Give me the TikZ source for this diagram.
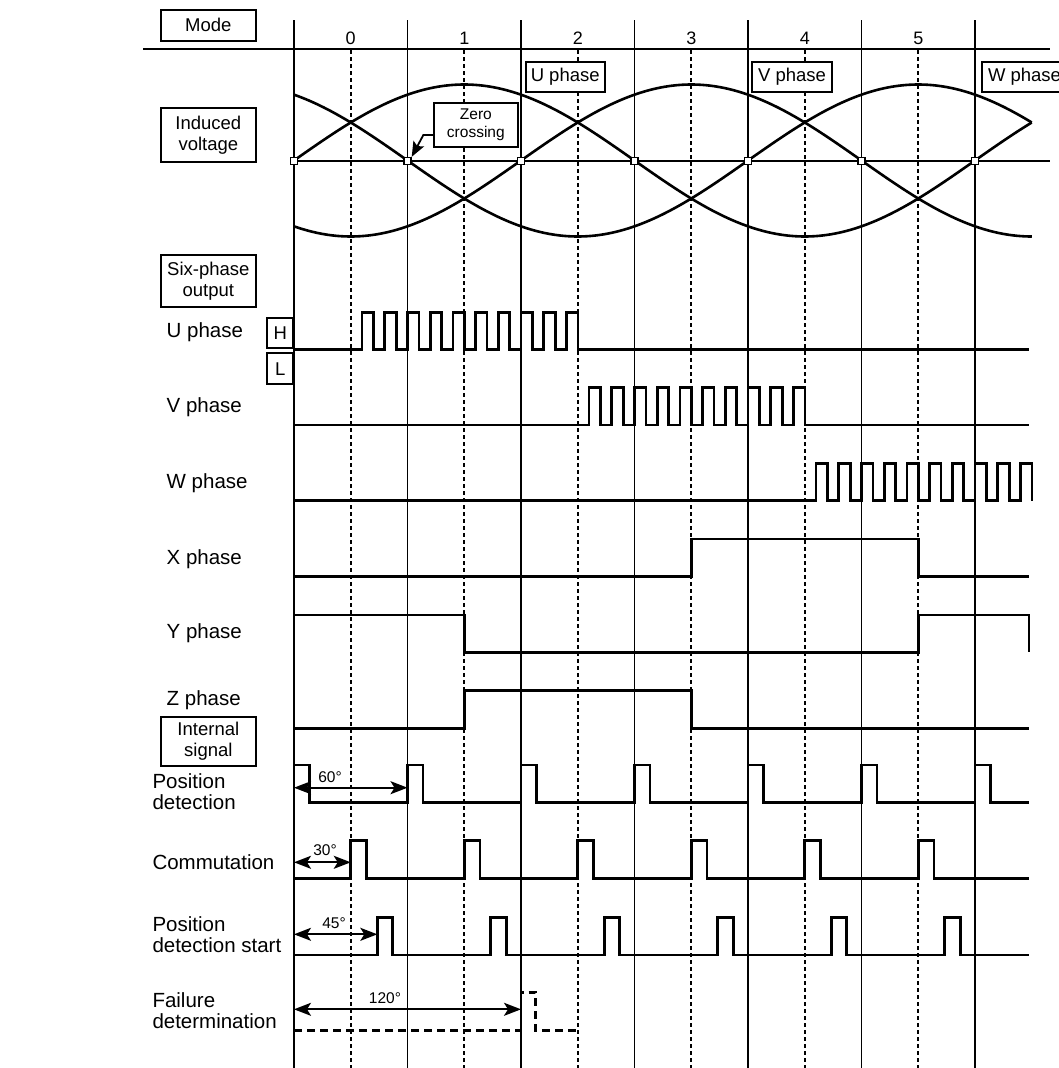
\documentclass[tikz,border=0pt]{standalone}
\usepackage{fontspec}
\setmainfont{Liberation Sans}
\usetikzlibrary{arrows.meta}
\begin{document}
\begin{tikzpicture}[x=1pt,y=-1pt,
  lbl/.style={font=\fontsize{20.5}{21}\selectfont, anchor=west, inner sep=0pt, align=left},
  tbox/.style={draw, fill=white, line width=1.9pt, font=\fontsize{18.5}{21}\selectfont, align=center, inner sep=0pt},
  num/.style={font=\fontsize{18}{18}\selectfont, inner sep=0pt},
  small/.style={font=\fontsize{15.5}{17.5}\selectfont, inner sep=0pt, align=center},
  gridline/.style={line width=1.8pt},
  gdash/.style={line width=1.8pt, dash pattern=on 4pt off 3pt},
  wave/.style={line width=2.7pt, line join=miter},
  curve/.style={line width=2.6pt},
  dimarrow/.style={line width=1.8pt, {Stealth[length=17pt,width=13pt,inset=4pt]}-{Stealth[length=17pt,width=13pt,inset=4pt]}},
  zcarrow/.style={line width=1.8pt, -{Stealth[length=15pt,width=12pt,inset=3pt]}},
  zsq/.style={draw, fill=white, line width=1.4pt, minimum size=7pt, inner sep=0pt}
]
\useasboundingbox (0,0) rectangle (1058,1068);

% grid
\draw[gridline] (143,49.3) -- (1050,49.3);
\foreach \k in {0,...,6} {
  \draw[gridline] ({294+113.5*\k},20) -- ({294+113.5*\k},1068);
}
\foreach \k in {0,...,5} {
  \draw[gdash] ({350.75+113.5*\k},50) -- ({350.75+113.5*\k},1068);
  \node[num] (m\k) at ({350.75+113.5*\k},38) {\k};
}

% left boxes
\node[tbox, minimum width=95.3pt, minimum height=30.7pt] (mode) at (208.35,25.35) {Mode};
\node[tbox, minimum width=95.3pt, minimum height=54.6pt] (ind) at (208.35,135) {Induced\\voltage};
\node[tbox, minimum width=95.3pt, minimum height=51.7pt] (six) at (208.35,280.85) {Six-phase\\output};
\node[tbox, minimum width=95.3pt, minimum height=49.3pt] (int) at (208.35,741.3) {Internal\\signal};
\node[tbox, minimum width=26pt, minimum height=30.6pt] (hbox) at (280.3,333) {H};
\node[tbox, minimum width=26pt, minimum height=30.6pt] (lbox) at (280.3,368.65) {L};

% phase boxes on top
\node[tbox, minimum width=79pt, minimum height=30.3pt] (up) at (565.2,76.85) {U phase};
\node[tbox, minimum width=80.6pt, minimum height=30.3pt] (vp) at (792,76.85) {V phase};
\node[tbox, minimum width=84.3pt, minimum height=30.3pt] (wp) at (1024.5,76.85) {W phase};

% induced voltage
\draw[gridline] (294,161) -- (1050,161);
\draw[curve] plot[domain=294:1031.75, samples=200, smooth] (\x, {160.5-76*sin((\x-294)/681*360)});
\draw[curve] plot[domain=294:1031.75, samples=200, smooth] (\x, {160.5-76*sin((\x-294)/681*360+120)});
\draw[curve] plot[domain=294:1031.75, samples=200, smooth] (\x, {160.5-76*sin((\x-294)/681*360-120)});
\foreach \k in {0,...,6} {
  \node[zsq] (sq\k) at ({294+113.5*\k},161) {};
}
\node[tbox, font=\fontsize{15.5}{17.5}\selectfont, minimum width=83.7pt, minimum height=43.4pt] (zc) at (475.85,125) {Zero\\crossing};
\draw[zcarrow] (zc.west) ++(0,10) -- ++(-9.7,0) -- (sq1.north east);

% labels
\node[lbl] (lu) at (166.5,331.7) {U phase};
\node[lbl] (lv) at (166.5,406.7) {V phase};
\node[lbl] (lw) at (166.5,483.3) {W phase};
\node[lbl] (lx) at (166.5,559.3) {X phase};
\node[lbl] (ly) at (166.5,633.3) {Y phase};
\node[lbl] (lz) at (166.5,700) {Z phase};
\node[lbl] (lpd) at (152.3,791.2) {Position\\detection};
\node[lbl] (lcm) at (152.3,862.3) {Commutation};
\node[lbl] (lps) at (152.3,935) {Position\\detection start};
\node[lbl] (lfd) at (152.3,1010.5) {Failure\\determination};

% U phase
\draw[wave] (294,349.3) foreach \k in {0,...,9} { -- ({362.1+22.7*\k},349.3) -- ({362.1+22.7*\k},312.3) -- ({373.6+22.7*\k},312.3) -- ({373.6+22.7*\k},349.3) } -- (1029,349.3);
% V phase
\draw[wave] (294,425) foreach \k in {0,...,9} { -- ({589.1+22.7*\k},425) -- ({589.1+22.7*\k},387.7) -- ({600.6+22.7*\k},387.7) -- ({600.6+22.7*\k},425) } -- (1029,425);
% W phase
\draw[wave] (294,500.7) foreach \k in {0,...,9} { -- ({816.1+22.7*\k},500.7) -- ({816.1+22.7*\k},463.3) -- ({827.6+22.7*\k},463.3) -- ({827.6+22.7*\k},500.7) };
% X phase
\draw[wave] (294,576.7) -- (691.25,576.7) -- (691.25,539) -- (918.25,539) -- (918.25,576.7) -- (1029,576.7);
% Y phase
\draw[wave] (294,615) -- (464.25,615) -- (464.25,652.3) -- (918.25,652.3) -- (918.25,615) -- (1029,615) -- (1029,652.3);
% Z phase
\draw[wave] (294,728.3) -- (464.25,728.3) -- (464.25,690.7) -- (691.25,690.7) -- (691.25,728.3) -- (1029,728.3);

% Position detection
\draw[wave] (294,802.7) foreach \k in {0,...,6} { -- ({294+113.5*\k},802.7) -- ({294+113.5*\k},765) -- ({309.5+113.5*\k},765) -- ({309.5+113.5*\k},802.7) } -- (1029,802.7);
% Commutation
\draw[wave] (294,878.7) foreach \k in {0,...,5} { -- ({350.75+113.5*\k},878.7) -- ({350.75+113.5*\k},840.7) -- ({366.5+113.5*\k},840.7) -- ({366.5+113.5*\k},878.7) } -- (1029,878.7);
% Position detection start
\draw[wave] (294,955) foreach \k in {0,...,5} { -- ({377.3+113.5*\k},955) -- ({377.3+113.5*\k},917.3) -- ({392.8+113.5*\k},917.3) -- ({392.8+113.5*\k},955) } -- (1029,955);
% Failure determination
\draw[wave, dash pattern=on 8pt off 5pt] (294,1030.7) -- (521,1030.7) -- (521,992.3) -- (535.7,992.3) -- (535.7,1030.7) -- (577,1030.7);

% dimension arrows
\coordinate (a60l) at (294,787.7);
\coordinate (a60r) at (407.5,787.7);
\coordinate (a30l) at (294,862.3);
\coordinate (a30r) at (350.75,862.3);
\coordinate (a45l) at (294,934.3);
\coordinate (a45r) at (377.3,934.3);
\coordinate (a120l) at (294,1009.3);
\coordinate (a120r) at (521,1009.3);
\draw[dimarrow] (a60l) -- (a60r);
\draw[dimarrow] (a30l) -- (a30r);
\draw[dimarrow] (a45l) -- (a45r);
\draw[dimarrow] (a120l) -- (a120r);
\node[small] (t60) at (330,776.7) {60°};
\node[small] (t30) at (325,850) {30°};
\node[small] (t45) at (334,922.7) {45°};
\node[small] (t120) at (385,997.7) {120°};
\end{tikzpicture}
\end{document}
